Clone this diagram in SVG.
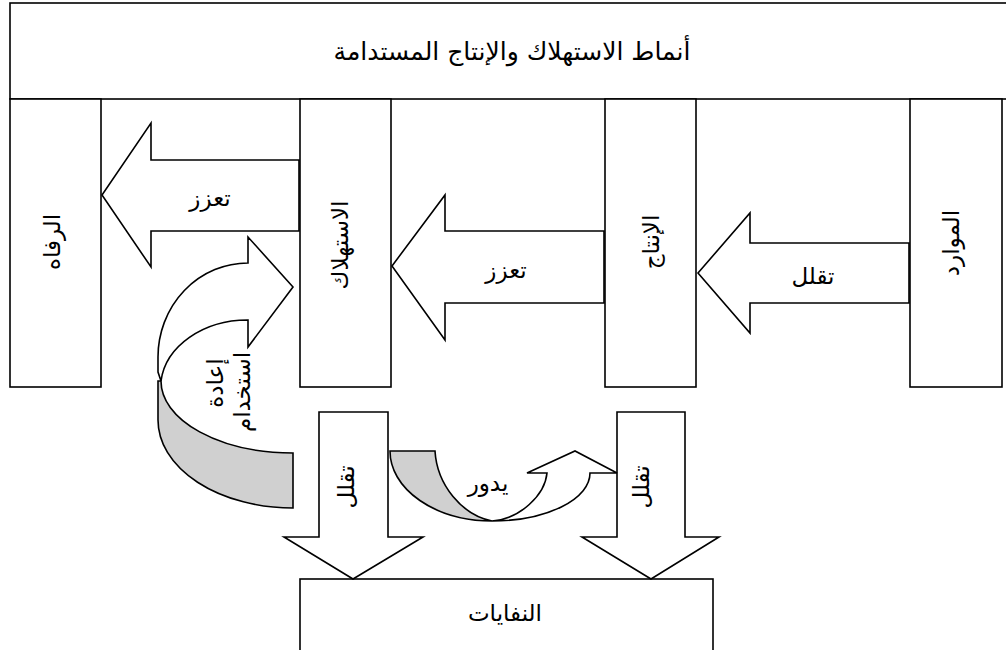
<svg xmlns="http://www.w3.org/2000/svg" width="1006" height="650" viewBox="0 0 1006 650">
<style>
.box{fill:#fff;stroke:#000;stroke-width:1.6}
.arr{fill:#fff;stroke:#000;stroke-width:1.6;stroke-linejoin:miter}
.back{fill:#d0d0d0;stroke:#000;stroke-width:1.6}
text{font-family:"DejaVu Sans","Noto Sans",sans-serif;font-size:23px;fill:#000;text-anchor:middle}
.v{dominant-baseline:central}
.title{font-size:25px}
</style>
<rect width="1006" height="650" fill="#fff"/>
<g id="banner">
<rect class="box" x="10" y="3" width="1000" height="96"/>
<text class="title" x="512" y="60">أنماط الاستهلاك والإنتاج المستدامة</text>
</g>
<g id="welfare">
<rect class="box" x="10" y="99" width="91" height="288"/>
<text class="v" transform="translate(52,242) rotate(-90)">الرفاه</text>
</g>
<g id="consumption">
<rect class="box" x="300" y="99" width="91" height="288"/>
<text class="v" transform="translate(340,245) rotate(-90)">الاستهلاك</text>
</g>
<g id="production">
<rect class="box" x="605" y="99" width="91" height="288"/>
<text class="v" transform="translate(651,242) rotate(-90)">الإنتاج</text>
</g>
<g id="resources">
<rect class="box" x="910" y="99" width="92" height="288"/>
<text class="v" transform="translate(951,243) rotate(-90)">الموارد</text>
</g>
<g id="waste">
<rect class="box" x="300" y="579" width="413" height="80"/>
<text x="505" y="621">النفايات</text>
</g>
<g id="connectors">
<g id="a-consumption-welfare">
<path class="arr" d="M299,160 L151,160 L151,123 L102,195 L151,267 L151,231 L299,231 Z"/>
<text x="210" y="206">تعزز</text>
</g>
<g id="a-production-consumption">
<path class="arr" d="M604,231 L445,231 L445,195 L392,266 L445,340 L445,303 L604,303 Z"/>
<text x="506" y="278">تعزز</text>
</g>
<g id="a-resources-production">
<path class="arr" d="M909,243 L750,243 L750,213 L698,273 L750,333 L750,303 L909,303 Z"/>
<text x="813" y="284">تقلل</text>
</g>
<g id="a-consumption-waste">
<path class="arr" d="M319,412 L388,412 L388,537 L423,537 L353,579 L284,537 L319,537 Z"/>
<text class="v" transform="translate(346,487) rotate(-90)">تقلل</text>
</g>
<g id="a-production-waste">
<path class="arr" d="M617,412 L685,412 L685,537 L719,537 L651,579 L582,537 L617,537 Z"/>
<text class="v" transform="translate(641,487) rotate(-90)">تقلل</text>
</g>
<g id="a-reuse">
<path class="arr" d="M248,263 L248,237 L293,287 L248,347 L248,320 A87 68 0 0 0 161,381 L158,372 L158,357 A90 94 0 0 1 248,263 Z"/>
<path class="back" d="M161,381 A132 72 0 0 0 293,453 L293,508 A135 88 0 0 1 158,420 L158,381 Z"/>
<text class="v" transform="translate(215,383) rotate(-90)">إعادة</text>
<text class="v" transform="translate(242,392) rotate(-90)">استخدام</text>
</g>
<g id="a-recycle">
<path class="back" d="M390,451 L435,451 C437,485 462,515 492,521 A102 70 0 0 1 390,451 Z"/>
<path class="arr" d="M492,521 C520,519 545,495 547,473 L527,473 L575,451 L617,473 L590,473 A98 48 0 0 1 492,521 Z"/>
<text x="488" y="491">يدور</text>
</g>
</g>
</svg>
